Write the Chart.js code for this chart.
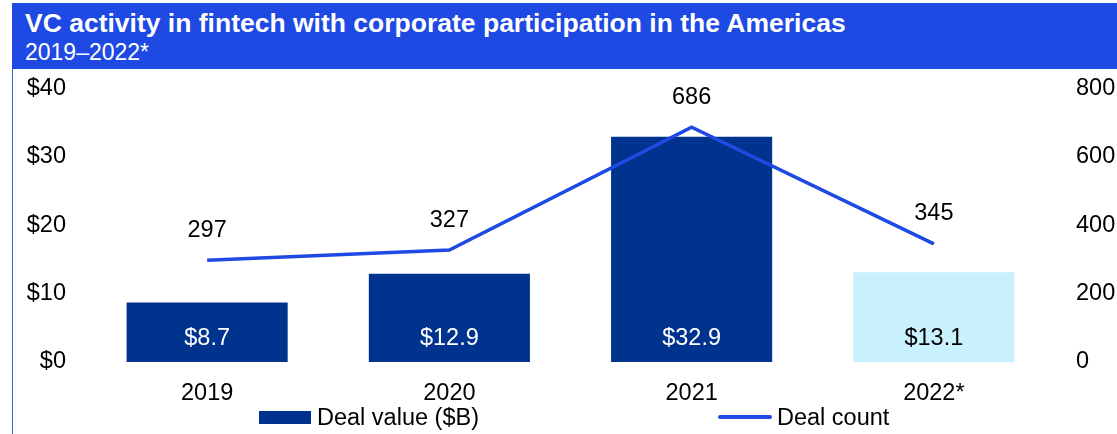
<!DOCTYPE html>
<html>
<head>
<meta charset="utf-8">
<script src="https://cdn.jsdelivr.net/npm/chart.js@4.4.0/dist/chart.umd.min.js"></script>
<style>
  body { margin: 0; width: 1117px; height: 434px; overflow: hidden; background: #fff; position: relative;
         font-family: Arial, "Liberation Sans", sans-serif; color: #000; }
  #frame { position: absolute; left: 12px; top: 3px; right: 0; bottom: 0; border-left: 1px solid #3a5ee6; }
  #header { position: absolute; left: 12px; top: 3px; right: 0; height: 66px; background: #1e49e2; color: #fff; }
  #header .title { position: absolute; left: 13px; top: 5px; font-size: 26.5px; line-height: 30px; font-weight: bold; white-space: nowrap; }
  #header .sub { position: absolute; left: 13px; top: 36px; font-size: 23px; line-height: 26px; white-space: nowrap; }
  #wrap { position: absolute; left: 13px; top: 53px; width: 1104px; height: 381px; }
  .leg { position: absolute; font-size: 23.5px; line-height: 24px; white-space: nowrap; }
  .sw { position: absolute; }
</style>
</head>
<body>
<div id="frame"></div>
<div id="header">
  <div class="title">VC activity in fintech with corporate participation in the Americas</div>
  <div class="sub">2019–2022*</div>
</div>
<div id="wrap"><canvas id="chart" width="1104" height="381"></canvas></div>
<div class="sw" style="left:259px;top:411px;width:52px;height:13px;background:#00338d"></div>
<div class="leg" style="left:317px;top:405px">Deal value ($B)</div>
<div class="sw" style="left:718px;top:415px;width:54px;height:4px;background:#1e49e2;border-radius:2px"></div>
<div class="leg" style="left:777px;top:405px">Deal count</div>
<script>
const years = ['2019', '2020', '2021', '2022*'];
const dealValue = [8.7, 12.9, 32.9, 13.1];
const dealCount = [297, 327, 686, 345];
const barColors = ['#00338d', '#00338d', '#00338d', '#c9f0fd'];
const valueLabelColors = ['#fff', '#fff', '#fff', '#000'];

const FONT = 'Arial, "Liberation Sans", sans-serif';
Chart.defaults.font.family = FONT;
Chart.defaults.font.size = 23.5;
Chart.defaults.color = '#000';

// draws the value labels (no datalabels plugin offline)
const valueLabels = {
  id: 'valueLabels',
  afterDatasetsDraw(chart) {
    const ctx = chart.ctx;
    const base = chart.scales.y.getPixelForValue(0);
    ctx.save();
    ctx.font = '23.5px ' + FONT;
    ctx.textAlign = 'center';
    ctx.textBaseline = 'middle';
    chart.getDatasetMeta(0).data.forEach((bar, i) => {
      ctx.fillStyle = valueLabelColors[i];
      ctx.fillText('$' + dealValue[i].toFixed(1), bar.x, base - 23);
    });
    ctx.fillStyle = '#000';
    chart.getDatasetMeta(1).data.forEach((pt, i) => {
      ctx.fillText(String(dealCount[i]), pt.x, pt.y - 30);
    });
    ctx.restore();
  }
};

new Chart(document.getElementById('chart'), {
  type: 'bar',
  data: {
    labels: years,
    datasets: [{
      type: 'bar',
      label: 'Deal value ($B)',
      data: dealValue,
      backgroundColor: barColors,
      yAxisID: 'y',
      categoryPercentage: 1,
      barPercentage: 0.665,
      order: 1
    }, {
      type: 'line',
      label: 'Deal count',
      data: dealCount,
      borderColor: '#1e49e2',
      borderWidth: 3.5,
      pointRadius: 0,
      tension: 0,
      yAxisID: 'y1',
      order: 0
    }]
  },
  options: {
    responsive: false,
    animation: false,
    devicePixelRatio: 1,
    layout: { padding: { top: 3, left: 0, right: 0, bottom: 0 } },
    plugins: { legend: { display: false }, tooltip: { enabled: false } },
    scales: {
      x: {
        grid: { display: false, drawTicks: false },
        border: { display: false },
        ticks: { padding: 17 },
        afterFit(s) { s.height = 72; }
      },
      y: {
        position: 'left',
        min: 0, max: 40,
        grid: { display: false, drawTicks: false },
        border: { display: false },
        ticks: { stepSize: 10, padding: 20, callback: v => '$' + v },
        afterFit(s) { s.width = 73; }
      },
      y1: {
        position: 'right',
        min: 0, max: 800,
        grid: { display: false, drawTicks: false },
        border: { display: false },
        ticks: { stepSize: 200, padding: 21 },
        afterFit(s) { s.width = 62; }
      }
    }
  },
  plugins: [valueLabels]
});
</script>
</body>
</html>
